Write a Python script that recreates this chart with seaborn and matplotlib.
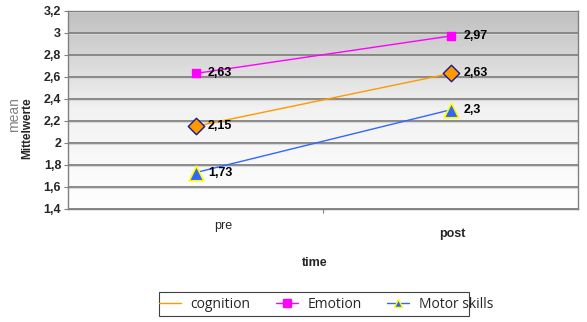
#!/usr/bin/env python3
"""Mean scores pre/post for cognition, emotion and motor skills."""

import numpy as np
import pandas as pd
import matplotlib
matplotlib.use('Agg')
import matplotlib.pyplot as plt
from matplotlib.lines import Line2D
from matplotlib.patches import Rectangle
import seaborn as sns

# data
times = ['pre', 'post']
series = ['cognition', 'Emotion', 'Motor skills']
cognition = [2.15, 2.63]
emotion = [2.63, 2.97]
motor = [1.73, 2.3]
cognition_labels = ['2,15', '2,63']
emotion_labels = ['2,63', '2,97']
motor_labels = ['1,73', '2,3']
yticks = [1.4, 1.6, 1.8, 2.0, 2.2, 2.4, 2.6, 2.8, 3.0, 3.2]

df = pd.DataFrame({
    'pos': [0, 1] * 3,
    'time': times * 3,
    'series': sum([[s] * 2 for s in series], []),
    'value': cognition + emotion + motor,
})

sns.set_style('white')
plt.rcParams['font.family'] = ['Liberation Sans Narrow', 'Liberation Sans', 'DejaVu Sans']

fig = plt.figure(figsize=(5.87, 3.22), dpi=100)
ax = fig.add_axes([0.116, 0.351, 0.869, 0.616])

# gradient background (gray at top to white at bottom)
grad = np.linspace(0, 1, 256).reshape(-1, 1)
ax.imshow(grad, extent=[-0.5, 1.5, 1.4, 3.2], aspect='auto',
          cmap=matplotlib.colors.LinearSegmentedColormap.from_list(
              'bg', ['#ffffff', '#f2f2f2', '#bfbfbf']),
          origin='lower', zorder=0)

for y in yticks:
    ax.axhline(y, color='#808080', lw=1.3, zorder=1)
    ax.axhline(y - 0.012, color='#d8d8d8', lw=0.8, zorder=1)

colors = {'cognition': '#ff9900', 'Emotion': '#ff00ff', 'Motor skills': '#3366ff'}
sns.lineplot(data=df, x='pos', y='value', hue='series', palette=colors,
             lw=1, legend=False, ax=ax, zorder=2)

# markers
ax.scatter([0, 1], cognition, marker='D', s=70, color='#ff9900',
           edgecolor='#1a1a80', linewidth=1, zorder=3)
ax.scatter([0, 1], emotion, marker='s', s=38, color='#ff00ff',
           edgecolor='#ff00ff', zorder=3)
ax.scatter([0, 1], motor, marker='^', s=110, color='#3366ff',
           edgecolor='#ffff00', linewidth=1.2, zorder=3)

for vals, labs in [(cognition, cognition_labels), (emotion, emotion_labels),
                   (motor, motor_labels)]:
    for i, (v, l) in enumerate(zip(vals, labs)):
        ax.annotate(l, (i, v), xytext=(9, 0), textcoords='offset points',
                    ha='left', va='center', fontsize=9, fontweight='bold',
                    color='black', zorder=4)

ax.set_xlim(-0.5, 1.5)
ax.set_ylim(1.4, 3.2)
ax.set_yticks(yticks)
ax.set_yticklabels([f'{t:g}'.replace('.', ',') for t in yticks],
                   fontsize=9, fontweight='bold')
ax.set_xticks([0.5])
ax.set_xticklabels([])
ax.tick_params(axis='both', length=3, color='#808080', direction='out',
               left=True, bottom=True, pad=2)
ax.set_xlabel('')
ax.set_ylabel('')
for sp in ax.spines.values():
    sp.set_color('#808080')
    sp.set_linewidth(1)

# category labels
fig.text(223 / 587, 1 - 226 / 322, 'pre', ha='center', va='center',
         fontsize=9, family=['Liberation Sans', 'DejaVu Sans'])
fig.text(452 / 587, 1 - 234 / 322, 'post', ha='center', va='center',
         fontsize=9, fontweight='bold', family=['Liberation Sans', 'DejaVu Sans'])
fig.text(315 / 587, 1 - 263 / 322, 'time', ha='center', va='center',
         fontsize=9, fontweight='bold', family=['Liberation Sans', 'DejaVu Sans'])

# axis titles
fig.text(14 / 587, 1 - 115 / 322, 'mean', ha='center', va='center',
         rotation=90, fontsize=10, color='#808080',
         family=['Liberation Sans', 'DejaVu Sans'])
fig.text(27 / 587, 1 - 128 / 322, 'Mittelwerte', ha='center', va='center',
         rotation=90, fontsize=8.5, fontweight='bold')

# legend box
fig.patches.append(Rectangle((159 / 587, 1 - 316 / 322), 310 / 587, 24 / 322,
                             transform=fig.transFigure, fill=False,
                             edgecolor='#404040', linewidth=0.8))
handles = [
    Line2D([], [], color='#ff9900', lw=1),
    Line2D([], [], color='#ff00ff', lw=1, marker='s', markersize=6),
    Line2D([], [], color='#3366ff', lw=1, marker='^', markersize=6,
           markeredgecolor='#ffff00'),
]
leg = fig.legend(handles, series, loc='center', ncol=3,
                 bbox_to_anchor=(326 / 587, 1 - 304 / 322),
                 frameon=False, handlelength=1.6, handletextpad=0.7,
                 columnspacing=1.8,
                 prop={'family': ['Open Sans', 'DejaVu Sans'], 'size': 10})

fig.savefig('out.png', dpi=100)
